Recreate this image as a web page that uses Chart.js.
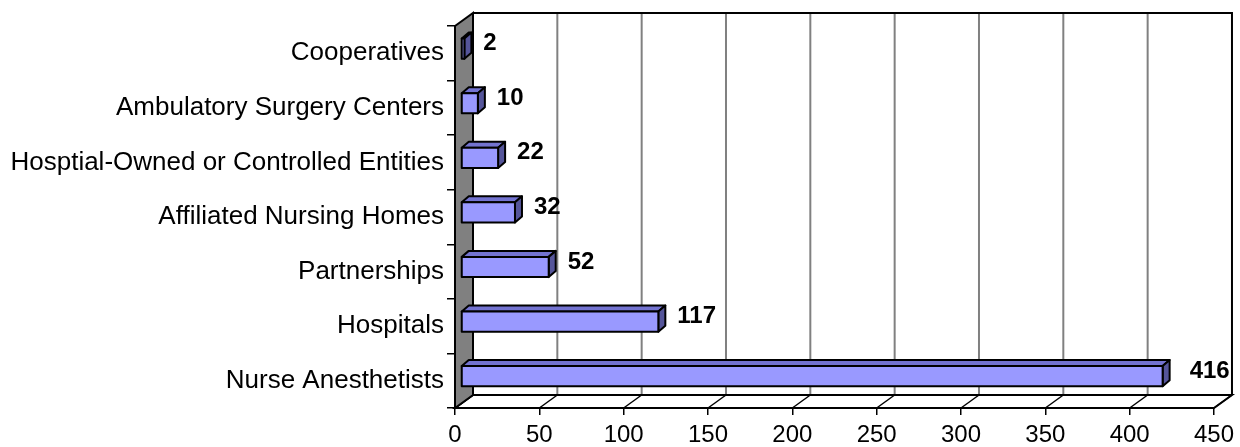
<!DOCTYPE html>
<html>
<head>
<meta charset="utf-8">
<script src="https://cdn.jsdelivr.net/npm/chart.js@4/dist/chart.umd.min.js"></script>
<style>
  html, body { margin: 0; padding: 0; background: #fff; }
  #wrap { width: 1240px; height: 447px; }
</style>
</head>
<body>
<div id="wrap"><canvas id="bar-chart"></canvas></div>
<script>
const categories = [
    'Cooperatives',
    'Ambulatory Surgery Centers',
    'Hosptial-Owned or Controlled Entities',
    'Affiliated Nursing Homes',
    'Partnerships',
    'Hospitals',
    'Nurse Anesthetists'
];
const counts = [2, 10, 22, 32, 52, 117, 416];
const xTicks = [0, 50, 100, 150, 200, 250, 300, 350, 400, 450];

// depth of the 3d box and of the bars, in px
const DX = 18, DY = 13;
const BX = 7, BY = 6;
const SHIFT_X = 6, SHIFT_Y = 4.6;

const box3d = {
    id: 'box3d',
    beforeDatasetsDraw(chart) {
        const ctx = chart.ctx;
        const a = chart.chartArea;
        const xs = chart.scales.x;
        ctx.save();
        ctx.lineWidth = 2;

        // back wall gridlines
        ctx.strokeStyle = '#808080';
        xTicks.forEach(v => {
            if (v === 0 || v === xTicks[xTicks.length - 1]) return;
            const px = xs.getPixelForValue(v) + DX;
            ctx.beginPath();
            ctx.moveTo(px, a.top - DY);
            ctx.lineTo(px, a.bottom - DY);
            ctx.stroke();
        });

        // back wall top + right edge
        ctx.strokeStyle = '#000';
        ctx.beginPath();
        ctx.moveTo(a.left + DX, a.top - DY);
        ctx.lineTo(a.right + DX, a.top - DY);
        ctx.lineTo(a.right + DX, a.bottom - DY);
        ctx.stroke();

        // floor
        ctx.fillStyle = '#fff';
        ctx.beginPath();
        ctx.moveTo(a.left, a.bottom);
        ctx.lineTo(a.right, a.bottom);
        ctx.lineTo(a.right + DX, a.bottom - DY);
        ctx.lineTo(a.left + DX, a.bottom - DY);
        ctx.closePath();
        ctx.fill();
        ctx.stroke();
        ctx.lineWidth = 1.5;
        xTicks.forEach(v => {
            const px = xs.getPixelForValue(v);
            ctx.beginPath();
            ctx.moveTo(px, a.bottom);
            ctx.lineTo(px + DX, a.bottom - DY);
            ctx.stroke();
        });
        ctx.lineWidth = 2;

        // left wall
        ctx.fillStyle = '#808080';
        ctx.beginPath();
        ctx.moveTo(a.left, a.top);
        ctx.lineTo(a.left + DX, a.top - DY);
        ctx.lineTo(a.left + DX, a.bottom - DY);
        ctx.lineTo(a.left, a.bottom);
        ctx.closePath();
        ctx.fill();
        ctx.stroke();
        ctx.restore();
    },
    afterDatasetsDraw(chart) {
        const ctx = chart.ctx;
        const meta = chart.getDatasetMeta(0);
        ctx.save();
        ctx.lineWidth = 2;
        ctx.strokeStyle = '#000';
        ctx.lineJoin = 'round';
        meta.data.forEach((bar, i) => {
            const x0 = bar.base + SHIFT_X;
            const x1 = bar.x + SHIFT_X;
            const top = bar.y - SHIFT_Y - bar.height / 2;
            const bot = top + bar.height;

            // top face
            ctx.fillStyle = '#7373d0';
            ctx.beginPath();
            ctx.moveTo(x0, top);
            ctx.lineTo(x0 + BX, top - BY);
            ctx.lineTo(x1 + BX, top - BY);
            ctx.lineTo(x1, top);
            ctx.closePath();
            ctx.fill();
            ctx.stroke();

            // side face
            ctx.fillStyle = '#55559a';
            ctx.beginPath();
            ctx.moveTo(x1, top);
            ctx.lineTo(x1 + BX, top - BY);
            ctx.lineTo(x1 + BX, bot - BY);
            ctx.lineTo(x1, bot);
            ctx.closePath();
            ctx.fill();
            ctx.stroke();

            // front face
            ctx.fillStyle = '#9999ff';
            ctx.fillRect(x0, top, x1 - x0, bar.height);
            ctx.strokeRect(x0, top, x1 - x0, bar.height);

            // value label
            ctx.fillStyle = '#000';
            ctx.font = 'bold 24px "Liberation Sans", Arial, sans-serif';
            ctx.textAlign = 'left';
            ctx.textBaseline = 'middle';
            const gap = counts[i] > 300 ? 20 : 12;
            ctx.fillText(String(counts[i]), x1 + BX + gap, bar.y - SHIFT_Y - 5);
        });
        ctx.restore();
    }
};

const chart = new Chart('bar-chart', {
    type: 'bar',
    data: {
        labels: categories,
        datasets: [{
            data: counts,
            backgroundColor: 'rgba(0,0,0,0)',
            borderWidth: 0,
            categoryPercentage: 1,
            barPercentage: 0.37
        }]
    },
    options: {
        indexAxis: 'y',
        responsive: true,
        maintainAspectRatio: false,
        animation: false,
        layout: { padding: { left: 0, top: 26, right: 23, bottom: 0 } },
        plugins: {
            legend: { display: false },
            tooltip: { enabled: false }
        },
        scales: {
            x: {
                min: 0,
                max: 450,
                afterFit: s => { s.height = 39; },
                afterBuildTicks: s => { s.ticks = xTicks.map(v => ({ value: v })); },
                ticks: {
                    color: '#000',
                    padding: 6,
                    maxRotation: 0,
                    font: { family: '"Liberation Sans", Arial, sans-serif', size: 24 }
                },
                grid: { drawOnChartArea: false, tickLength: 7, color: '#000', lineWidth: 1.5 },
                border: { color: '#000', width: 2 }
            },
            y: {
                afterFit: s => { s.width = 455; },
                ticks: {
                    color: '#000',
                    padding: 3,
                    font: { family: '"Liberation Sans", Arial, sans-serif', size: 26 }
                },
                grid: { drawOnChartArea: false, tickLength: 8, color: '#000', lineWidth: 1.5 },
                border: { color: '#000', width: 2 }
            }
        }
    },
    plugins: [box3d]
});
</script>
</body>
</html>
